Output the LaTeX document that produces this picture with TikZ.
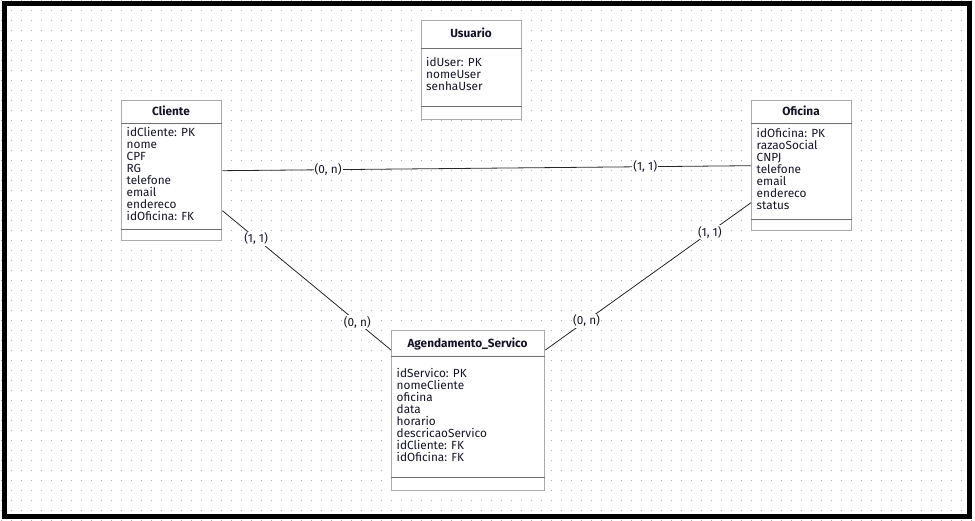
\documentclass[tikz,border=0pt]{standalone}
\usepackage{fontspec}
\setmainfont{Fira Sans}
\definecolor{dotgray}{HTML}{B4B4B4}
\definecolor{boxgray}{HTML}{ABABAB}
\definecolor{sepgray}{HTML}{6E6E6E}
\definecolor{txt}{HTML}{141428}
\begin{document}
\begin{tikzpicture}[x=1pt,y=-1pt,
  entity/.style={draw=boxgray, line width=1.4pt, fill=white, anchor=north west, inner sep=0pt},
  sep/.style={draw=sepgray, line width=0.9pt},
  title/.style={font=\fontsize{11.8}{12}\selectfont\bfseries, anchor=base, inner sep=0pt, text=txt},
  attr/.style={font=\fontsize{11.8}{12}\selectfont, anchor=base west, inner sep=0pt, text=txt},
  rel/.style={draw=black!85, line width=0.8pt},
  card/.style={fill=white, inner sep=1pt, font=\fontsize{11.8}{12}\selectfont, text=txt}
]
\useasboundingbox (0,0) rectangle (975,521);

% dotted background grid
\foreach \i in {0,...,97}
  \foreach \j in {0,...,52}
    \fill[dotgray] (1.3+10*\i,-0.4+10*\j) rectangle ++(0.9,0.9);

% entity boxes
\node[entity, minimum width=100pt, minimum height=99pt] (usuario) at (421,20) {};
\node[entity, minimum width=100pt, minimum height=140pt] (cliente) at (121,100) {};
\node[entity, minimum width=100pt, minimum height=130pt] (oficina) at (751,100) {};
\node[entity, minimum width=153pt, minimum height=160pt] (agend) at (391,330) {};

% header and footer separators
\draw[sep] ([yshift=-28pt]usuario.north west) -- ([yshift=-28pt]usuario.north east);
\draw[sep] ([yshift=13.5pt]usuario.south west) -- ([yshift=13.5pt]usuario.south east);
\draw[sep] ([yshift=-23.3pt]cliente.north west) -- ([yshift=-23.3pt]cliente.north east);
\draw[sep] ([yshift=12.3pt]cliente.south west) -- ([yshift=12.3pt]cliente.south east);
\draw[sep] ([yshift=-23.3pt]oficina.north west) -- ([yshift=-23.3pt]oficina.north east);
\draw[sep] ([yshift=12.3pt]oficina.south west) -- ([yshift=12.3pt]oficina.south east);
\draw[sep] ([yshift=-26pt]agend.north west) -- ([yshift=-26pt]agend.north east);
\draw[sep] ([yshift=14.3pt]agend.south west) -- ([yshift=14.3pt]agend.south east);

% titles
\node[title] (usuario-t) at (471,38) {Usuario};
\node[title] (cliente-t) at (171,116) {Cliente};
\node[title] (oficina-t) at (801,116) {Oficina};
\node[title] (agend-t) at (467.5,347.7) {Agendamento\_Servico};

% attributes
\foreach \t [count=\i] in {idUser: PK,nomeUser,senhaUser}
  \node[attr] (usuario-a\i) at (426,55+12*\i) {\t};
\foreach \t [count=\i] in {idCliente: PK,nome,CPF,RG,telefone,email,endereco,idOficina: FK}
  \node[attr] (cliente-a\i) at (126.5,124.5+12*\i) {\t};
\foreach \t [count=\i] in {idOficina: PK,razaoSocial,CNPJ,telefone,email,endereco,status}
  \node[attr] (oficina-a\i) at (756.5,125.5+12*\i) {\t};
\foreach \t [count=\i] in {idServico: PK,nomeCliente,oficina,data,horario,descricaoServico,idCliente: FK,idOficina: FK}
  \node[attr] (agend-a\i) at (396.5,365.5+12*\i) {\t};

% relationships with cardinalities
\draw[rel] (cliente.east) -- node[card, pos=0.2] (c1) {(0, n)} node[card, pos=0.8] (c2) {(1, 1)} (oficina.west);
\draw[rel] ([yshift=-40pt]cliente.east) -- node[card, pos=0.2] (c3) {(1, 1)} node[card, pos=0.8] (c4) {(0, n)} ([yshift=-20pt]agend.north west);
\draw[rel] ([yshift=-37pt]oficina.west) -- node[card, pos=0.2] (c5) {(1, 1)} node[card, pos=0.8] (c6) {(0, n)} ([yshift=-20pt]agend.north east);

% outer frame
\draw[line width=5pt] (4.2,3.5) rectangle (969.2,516.5);
\end{tikzpicture}
\end{document}
